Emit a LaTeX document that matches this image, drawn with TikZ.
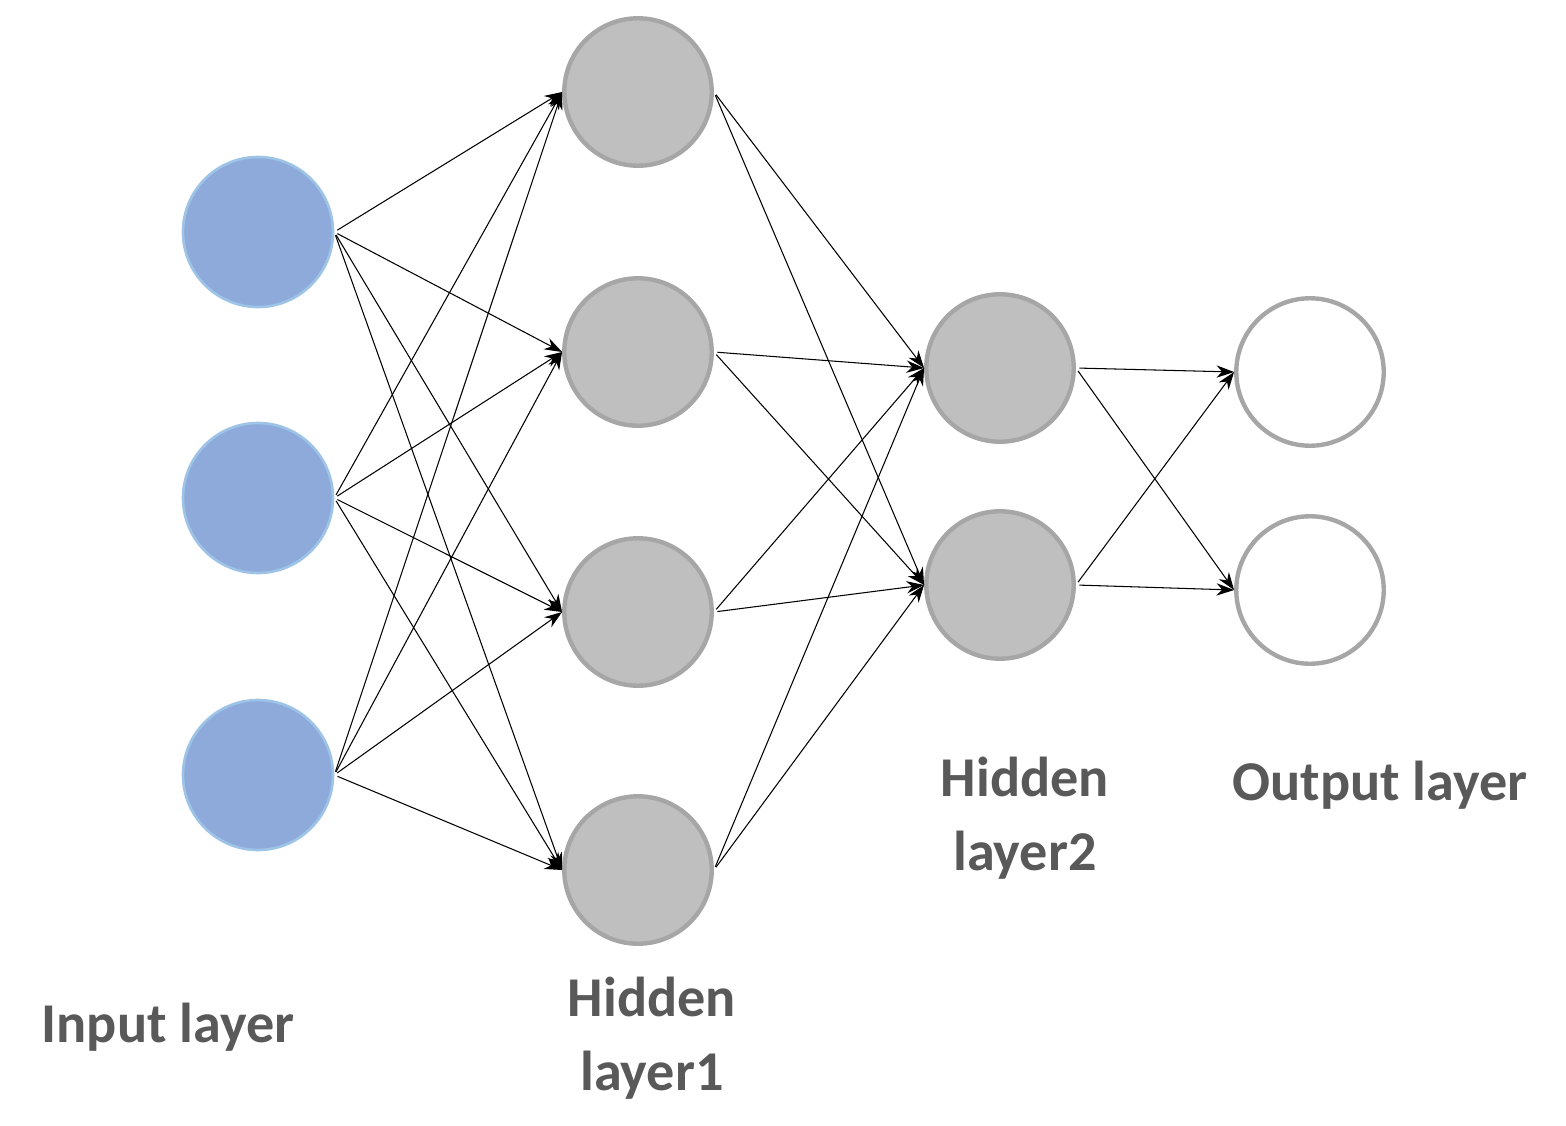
\documentclass[tikz,border=0pt]{standalone}
\usepackage{fontspec}
\setmainfont{Carlito}
\usetikzlibrary{arrows.meta}
\definecolor{inb}{HTML}{8EAADB}
\definecolor{inbd}{HTML}{9DC3E6}
\definecolor{hid}{HTML}{BFBFBF}
\definecolor{hidd}{HTML}{A6A6A6}
\definecolor{txt}{HTML}{595959}
\begin{document}
\begin{tikzpicture}[x=0.02cm,y=-0.02cm,
 inn/.style={circle,minimum size=3.0cm,inner sep=0pt,fill=inb,draw=inbd,line width=1.5pt},
 hn/.style={circle,minimum size=2.95cm,inner sep=0pt,fill=hid,draw=hidd,line width=2.5pt},
 on/.style={circle,minimum size=2.95cm,inner sep=0pt,fill=white,draw=hidd,line width=2.5pt},
 lab/.style={text=txt,font=\bfseries\fontsize{32}{42}\selectfont,align=center},
 arr/.style={-{Stealth[length=10pt,width=7pt]},line width=0.6pt,shorten <=2pt}]
\useasboundingbox (0,0) rectangle (1566,1126);
\node[inn] (i1) at (258,232) {};
\node[inn] (i2) at (258,498) {};
\node[inn] (i3) at (258,775) {};
\node[hn] (h1) at (638,92) {};
\node[hn] (h2) at (638,352) {};
\node[hn] (h3) at (638,612) {};
\node[hn] (h4) at (638,870) {};
\node[hn] (g1) at (1000,368) {};
\node[hn] (g2) at (1000,585) {};
\node[on] (o1) at (1310,372) {};
\node[on] (o2) at (1310,590) {};
\foreach \a in {i1,i2,i3}\foreach \b in {h1,h2,h3,h4}\draw[arr] (\a.east)--(\b.west);
\foreach \a in {h1,h2,h3,h4}\foreach \b in {g1,g2}\draw[arr] (\a.east)--(\b.west);
\foreach \a in {g1,g2}\foreach \b in {o1,o2}\draw[arr] (\a.east)--(\b.west);
\node[lab] (t1) at (168,1027) {Input layer};
\node[lab] (t2) at (652,1038) {Hidden\\layer1};
\node[lab] (t3) at (1025,818) {Hidden\\layer2};
\node[lab] (t4) at (1380,785) {Output layer};
\end{tikzpicture}
\end{document}
